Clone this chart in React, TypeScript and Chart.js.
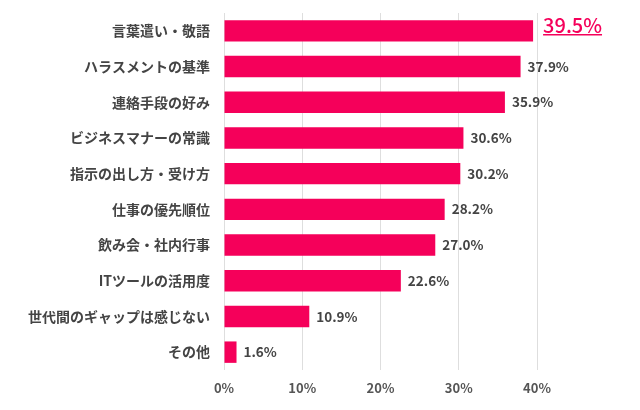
import { useEffect, useRef } from 'react';
import { Chart, registerables } from 'chart.js';

Chart.register(...registerables);

const categories = [
  '言葉遣い・敬語',
  'ハラスメントの基準',
  '連絡手段の好み',
  'ビジネスマナーの常識',
  '指示の出し方・受け方',
  '仕事の優先順位',
  '飲み会・社内行事',
  'ITツールの活用度',
  '世代間のギャップは感じない',
  'その他',
];

const values = [39.5, 37.9, 35.9, 30.6, 30.2, 28.2, 27.0, 22.6, 10.9, 1.6];

const xTicks = [0, 10, 20, 30, 40];

const PINK = 'rgb(245, 0, 90)';
const TEXT = '#444';
const FONT = '"Noto Sans CJK JP", "Noto Sans", sans-serif';

// draws the percentage after each bar; the top one is highlighted
const valueLabels = {
  id: 'valueLabels',
  afterDatasetsDraw(chart: Chart) {
    const { ctx } = chart;
    const meta = chart.getDatasetMeta(0);
    ctx.save();
    ctx.textBaseline = 'middle';
    ctx.textAlign = 'left';
    meta.data.forEach((bar: any, i: number) => {
      const text = values[i].toFixed(1) + '%';
      const y = bar.y;
      if (i === 0) {
        const x = bar.x + 10;
        ctx.font = `500 20px ${FONT}`;
        ctx.fillStyle = PINK;
        ctx.fillText(text, x, y - 5);
        const w = ctx.measureText(text).width;
        ctx.strokeStyle = PINK;
        ctx.lineWidth = 1.5;
        ctx.beginPath();
        ctx.moveTo(x, y + 4);
        ctx.lineTo(x + w, y + 4);
        ctx.stroke();
      } else {
        const x = bar.x + 7;
        ctx.font = `bold 13.5px ${FONT}`;
        ctx.fillStyle = TEXT;
        ctx.fillText(text, x, y);
      }
    });
    ctx.restore();
  },
};

export default function App() {
  const canvasRef = useRef<HTMLCanvasElement>(null);

  useEffect(() => {
    if (!canvasRef.current) return;
    const chart = new Chart(canvasRef.current, {
      type: 'bar',
      data: {
        labels: categories,
        datasets: [
          {
            data: values,
            backgroundColor: PINK,
            categoryPercentage: 0.6,
            barPercentage: 1,
          },
        ],
      },
      options: {
        indexAxis: 'y',
        animation: false,
        responsive: false,
        maintainAspectRatio: false,
        layout: { padding: { top: 13, right: 103, bottom: 10, left: 0 } },
        plugins: {
          legend: { display: false },
          tooltip: { enabled: false },
        },
        scales: {
          x: {
            min: 0,
            max: 40,
            afterBuildTicks: (axis: any) => {
              axis.ticks = xTicks.map((v) => ({ value: v }));
            },
            afterFit: (axis: any) => {
              axis.height = 30;
            },
            grid: { color: '#dedede', drawTicks: false, lineWidth: 1 },
            border: { display: false },
            ticks: {
              color: '#555',
              padding: 10,
              font: { family: FONT, size: 13, weight: 'bold' },
              callback: (v: any) => v + '%',
            },
          },
          y: {
            afterFit: (axis: any) => {
              axis.width = 224;
              axis.paddingTop = 0;
              axis.paddingBottom = 0;
            },
            grid: { display: false, drawTicks: false },
            border: { display: false },
            ticks: {
              color: TEXT,
              padding: 14,
              font: { family: FONT, size: 14, weight: 'bold' },
            },
          },
        },
      },
      plugins: [valueLabels],
    });
    return () => chart.destroy();
  }, []);

  return (
    <div style={{ position: 'fixed', left: 0, top: 0, width: 640, height: 410, background: '#fff' }}>
      <canvas ref={canvasRef} width={640} height={410} style={{ width: 640, height: 410 }} />
    </div>
  );
}
